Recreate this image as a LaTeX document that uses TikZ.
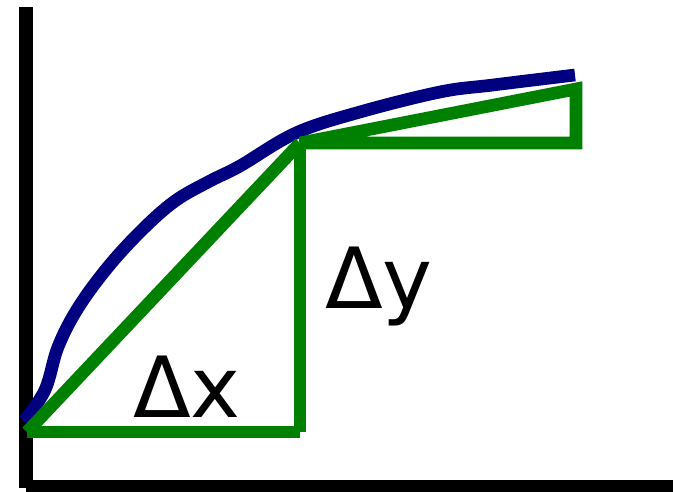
\documentclass[tikz,border=0pt]{standalone}
\usepackage{fontspec}
\setmainfont{DejaVu Sans}
\definecolor{curvenavy}{HTML}{000080}
\definecolor{stepgreen}{HTML}{008000}
\begin{document}
\begin{tikzpicture}[x=0.01cm, y=-0.01cm, line join=miter]
	
	\useasboundingbox (0,0) rectangle (673,492);
	\tikzset{
		axisline/.style={line width=3.8pt, black},
		slopeline/.style={line width=3.6pt, stepgreen},
		graphline/.style={line width=3.6pt, curvenavy},
		deltalabel/.style={font=\fontsize{24}{28}\selectfont, inner sep=0pt, anchor=base}
	}
	
	% ---------- Axes ----------
	\draw[axisline] (26,7) -- (26,488);
	\draw[axisline] (26,487) -- (673,487);
	
	% ---------- Corner points ----------
	\coordinate (A) at (27,432);
	\coordinate (B) at (300,432);
	\coordinate (C) at (300,143);
	\coordinate (D) at (576,143);
	\coordinate (E) at (576,89);
	
	% ---------- Curve ----------
	\draw[graphline] plot[smooth, tension=0.6] coordinates {
		(24,421) (45,390) (58,347) (78,308) (108,267) (142,230)
		(175,201) (210,181) (240,166) (296,133) (360,112) (440,92)
		(493,85) (575,75)};
	
	% ---------- Lower triangle ----------
	\draw[slopeline] (A) -- (C);
	\draw[slopeline] (A) -- (B);
	\draw[slopeline] (B) -- (C);
	
	% ---------- Upper triangle ----------
	\draw[slopeline] (C) -- (D) -- (E) -- cycle;
	
	% labels
	\node[deltalabel] (dx) at (187,418) {Δx};
	\node[deltalabel] (dy) at (379,309) {Δy};
	
\end{tikzpicture}
\end{document}
